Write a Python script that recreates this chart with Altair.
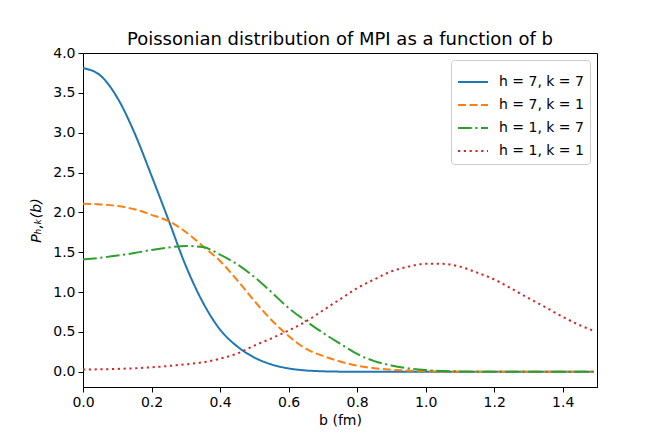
import altair as alt
import pandas as pd

# b values (fm)
b_vals = [0.00, 0.05, 0.10, 0.15, 0.20, 0.25, 0.30, 0.35, 0.40, 0.45,
          0.50, 0.55, 0.60, 0.65, 0.70, 0.75, 0.80, 0.85, 0.90, 0.95,
          1.00, 1.05, 1.10, 1.15, 1.20, 1.25, 1.30, 1.35, 1.40, 1.45, 1.49]

p_h7_k7 = [3.81, 3.72, 3.44, 3.00, 2.46, 1.90, 1.33, 0.87, 0.53, 0.32,
           0.18, 0.093, 0.043, 0.018, 0.007, 0.0025, 0.001, 0.0, 0.0, 0.0,
           0.0, 0.0, 0.0, 0.0, 0.0, 0.0, 0.0, 0.0, 0.0, 0.0, 0.0]

p_h7_k1 = [2.11, 2.10, 2.08, 2.04, 1.97, 1.89, 1.755, 1.575, 1.39, 1.15,
           0.89, 0.65, 0.45, 0.29, 0.20, 0.13, 0.078, 0.046, 0.027, 0.015,
           0.008, 0.004, 0.002, 0.0, 0.0, 0.0, 0.0, 0.0, 0.0, 0.0, 0.0]

p_h1_k7 = [1.41, 1.43, 1.46, 1.49, 1.53, 1.56, 1.58, 1.565, 1.47, 1.35,
           1.19, 1.00, 0.80, 0.64, 0.49, 0.355, 0.225, 0.135, 0.08, 0.043,
           0.022, 0.011, 0.005, 0.002, 0.0, 0.0, 0.0, 0.0, 0.0, 0.0, 0.0]

p_h1_k1 = [0.030, 0.032, 0.037, 0.045, 0.057, 0.074, 0.095, 0.12, 0.165, 0.23,
           0.33, 0.42, 0.52, 0.63, 0.77, 0.91, 1.05, 1.16, 1.26, 1.32,
           1.355, 1.355, 1.32, 1.245, 1.16, 1.045, 0.925, 0.81, 0.69, 0.585, 0.515]

series_labels = ["h = 7, k = 7", "h = 7, k = 1", "h = 1, k = 7", "h = 1, k = 1"]
series_colors = ["#1f77b4", "#ff7f0e", "#2ca02c", "#d62728"]
series_dashes = [[1, 0], [8, 3.5], [13.8, 3.5, 2.2, 3.5], [2.2, 3.6]]

x_ticks = [0.0, 0.2, 0.4, 0.6, 0.8, 1.0, 1.2, 1.4]
y_ticks = [0.0, 0.5, 1.0, 1.5, 2.0, 2.5, 3.0, 3.5, 4.0]

rows = []
for label, vals in zip(series_labels, [p_h7_k7, p_h7_k1, p_h1_k7, p_h1_k1]):
    for b, p in zip(b_vals, vals):
        rows.append({"b": b, "P": p, "series": label})
df = pd.DataFrame(rows)

FONT = "DejaVu Sans"

chart = alt.Chart(df).mark_line(
    strokeWidth=2, strokeCap="butt", interpolate="monotone", clip=True
).encode(
    x=alt.X("b:Q",
            scale=alt.Scale(domain=[0, 1.5], nice=False, zero=False),
            axis=alt.Axis(title="b (fm)", values=x_ticks, format=".1f",
                          labelFlush=False, labelPadding=3, titlePadding=4)),
    y=alt.Y("P:Q",
            scale=alt.Scale(domain=[-0.19, 4.0], nice=False, zero=False),
            axis=alt.Axis(title="Pₕ,ₖ(b)", values=y_ticks, format=".1f",
                          labelFlush=False, labelPadding=3, titlePadding=9,
                          titleFontStyle="italic")),
    color=alt.Color("series:N", sort=series_labels,
                    scale=alt.Scale(domain=series_labels, range=series_colors),
                    title=None),
    strokeDash=alt.StrokeDash("series:N", sort=series_labels,
                              scale=alt.Scale(domain=series_labels, range=series_dashes),
                              title=None),
).properties(
    width=514,
    height=334,
    autosize="none",
    padding={"left": 75, "top": 45, "right": 51, "bottom": 40},
    title=alt.TitleParams("Poissonian distribution of MPI as a function of b",
                          fontSize=18, font=FONT, fontWeight="normal",
                          anchor="middle", offset=-3, color="black"),
).configure_view(
    stroke="black", strokeWidth=1
).configure_axis(
    grid=False, domainColor="black", domainWidth=1, tickColor="black",
    tickWidth=1, tickSize=5, labelColor="black", labelFont=FONT,
    labelFontSize=14, titleFont=FONT, titleFontSize=14,
    titleFontWeight="normal", titleColor="black"
).configure_legend(
    orient="top-right", offset=7, padding=6, fillColor="white",
    strokeColor="#cccccc", cornerRadius=3, symbolType="stroke",
    symbolSize=900, symbolStrokeWidth=2, labelFont=FONT, labelFontSize=14,
    labelColor="black", rowPadding=-7, labelOffset=10
)

chart.save("out.html", embed_options={"renderer": "svg", "actions": False})
